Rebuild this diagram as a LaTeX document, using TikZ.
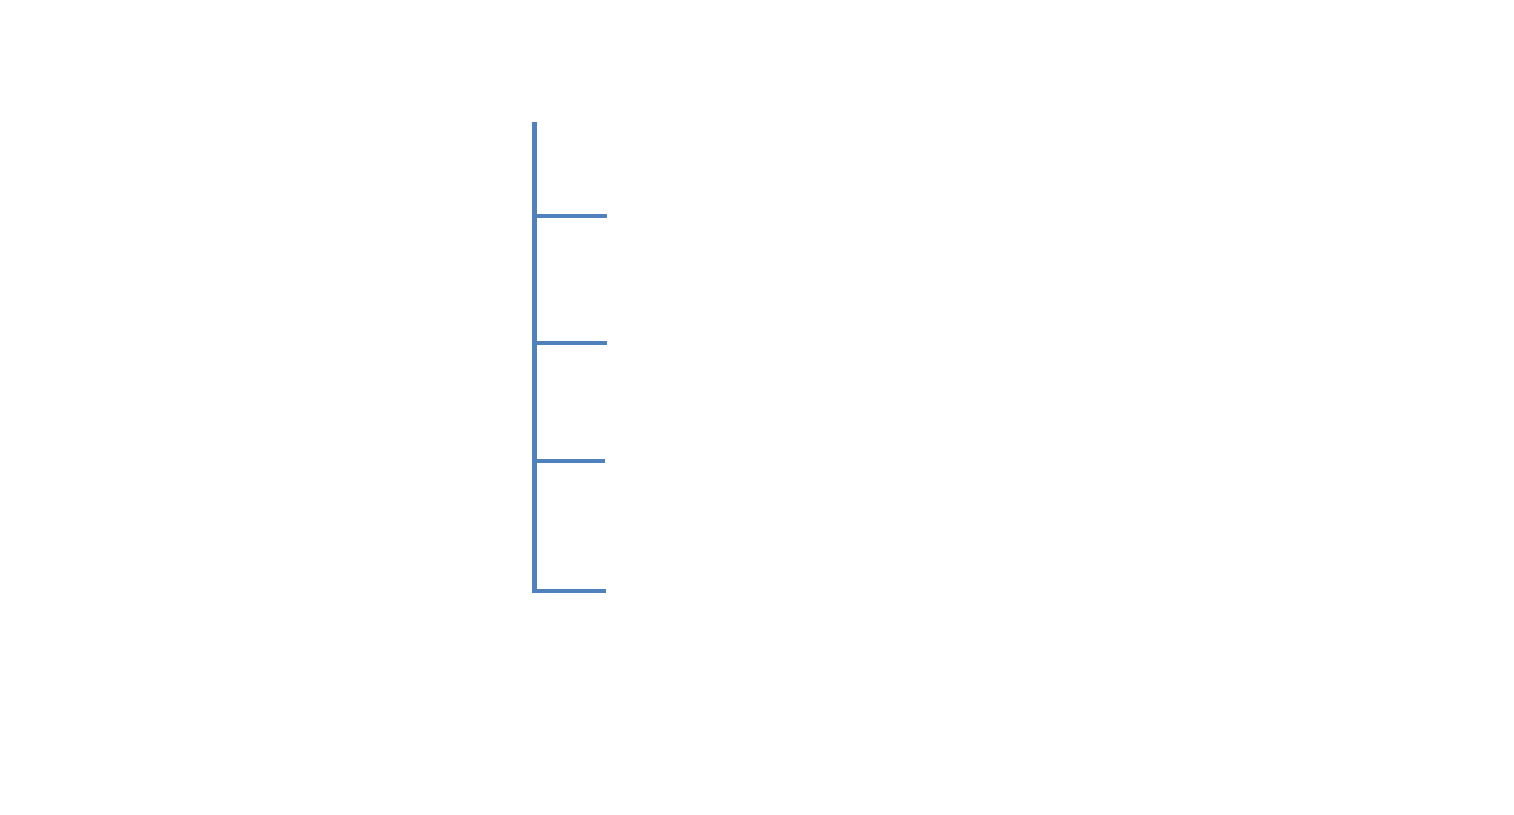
\documentclass[tikz,border=0pt]{standalone}
\usetikzlibrary{calc}
\definecolor{officeblue}{HTML}{4F81BD}
\begin{document}
\begin{tikzpicture}[x=1pt,y=-1pt,
  bar/.style={draw=officeblue,line width=4.2pt},
  shade/.style={draw=black!40,line width=4.6pt,opacity=0.45}]
\useasboundingbox[fill=white] (0,0) rectangle (1514,814);
\coordinate (top) at (534.5,122);
\coordinate (s1) at (534.5,216);
\coordinate (s2) at (534.5,343);
\coordinate (s3) at (534.5,461);
\coordinate (s4) at (534.5,591);
\coordinate (e1) at (607,216);
\coordinate (e2) at (607,343);
\coordinate (e3) at (605,461);
\coordinate (e4) at (606,591);
% soft shadows
\begin{scope}[shift={(2,2.5)}]
\draw[shade] (top) -- (s4) -- (e4);
\draw[shade] (s1) -- (e1);
\draw[shade] (s2) -- (e2);
\draw[shade] (s3) -- (e3);
\end{scope}
% lines
\draw[bar] (top) -- (s4) -- (e4);
\draw[bar,line width=5pt] (top) -- (s1);
\draw[bar] (s1) -- (e1);
\draw[bar] (s2) -- (e2);
\draw[bar] (s3) -- (e3);
\end{tikzpicture}
\end{document}
